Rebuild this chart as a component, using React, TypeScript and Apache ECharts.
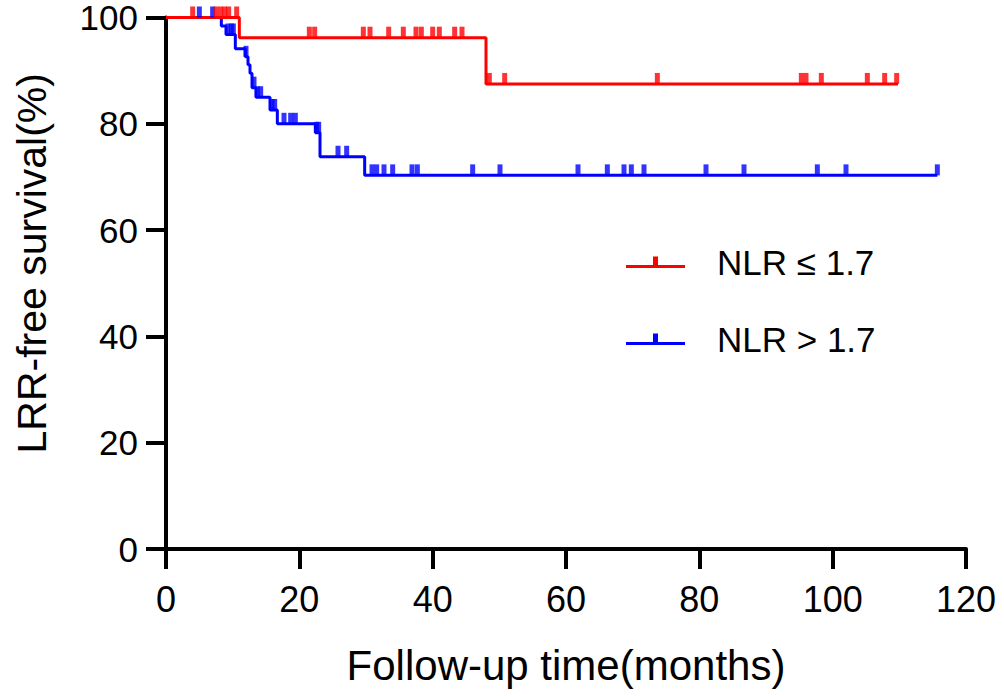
import React, { useEffect, useRef } from "react";
import * as echarts from "echarts";

// ---- data ----
const xTicks = [0, 20, 40, 60, 80, 100, 120];
const yTicks = [0, 20, 40, 60, 80, 100];

const redName = "NLR ≤ 1.7";
const blueName = "NLR > 1.7";

const redEventTimes = [0, 11.0, 48.0];
const redSurvival = [100, 96.2, 87.5];
const redEndTime = 109.8;
const redCensorTimes = [
  4.0, 7.5, 8.2, 8.8, 9.4, 10.6,
  21.5, 22.3, 29.6, 30.6, 33.4, 35.6, 37.5, 38.3, 40.0, 41.0, 43.3, 44.4,
  48.5, 50.8, 73.7, 95.3, 96.0, 98.3, 105.2, 107.8, 109.6,
];

const blueEventTimes = [0, 8.3, 9.0, 10.4, 11.9, 12.3, 12.6, 12.9, 13.5, 15.6, 16.7, 22.4, 23.1, 29.8];
const blueSurvival = [100, 98.4, 96.8, 94.1, 92.6, 91.1, 89.5, 86.8, 85.0, 82.6, 80.0, 78.3, 73.8, 70.3];
const blueEndTime = 115.7;
const blueCensorTimes = [
  5.0, 7.0, 9.3, 9.8, 10.1, 12.0, 13.2, 13.7, 14.2, 15.9, 16.3,
  17.7, 18.7, 19.4, 22.6, 22.9, 25.8, 27.1,
  30.9, 31.6, 32.7, 34.0, 36.9, 37.7, 46.0, 50.1, 61.8, 66.2, 68.7, 69.8, 71.7,
  81.0, 86.7, 97.7, 102.0, 115.7,
];

const RED = "#FF0000";
const BLUE = "#0000FF";
const FONT = "Liberation Sans, Arial, Helvetica, sans-serif";

function survAt(times: number[], surv: number[], t: number): number {
  let v = surv[0];
  for (let i = 0; i < times.length; i++) {
    if (times[i] <= t) v = surv[i];
  }
  return v;
}

function curve(times: number[], surv: number[], end: number): number[][] {
  const pts = times.map((t, i) => [t, surv[i]]);
  pts.push([end, surv[surv.length - 1]]);
  return pts;
}

function censors(times: number[], surv: number[], cens: number[]): number[][] {
  return cens.map((t) => [t, survAt(times, surv, t)]);
}

const legendIcon = "path://M0,8.5L59,8.5L59,11.5L0,11.5Z M27,0L32,0L32,9L27,9Z";

export default function App() {
  const ref = useRef<HTMLDivElement>(null);
  useEffect(() => {
    document.body.style.margin = "0";
    const chart = echarts.init(ref.current!, null, { renderer: "svg" });
    const option: any = {
      animation: false,
      backgroundColor: "#ffffff",
      grid: { left: 166, right: 38, top: 17, bottom: 147, containLabel: false },
      legend: {
        orient: "vertical",
        left: 626,
        top: 241,
        padding: 0,
        itemWidth: 59,
        itemHeight: 11.5,
        itemGap: 34.5,
        itemStyle: { borderWidth: 0 },
        textStyle: {
          fontFamily: FONT,
          fontSize: 35,
          lineHeight: 34,
          color: "#000",
          padding: [8.5, 0, 0, 27],
        },
        data: [
          { name: redName, icon: legendIcon },
          { name: blueName, icon: legendIcon },
        ],
      },
      xAxis: {
        type: "value",
        min: xTicks[0],
        max: xTicks[xTicks.length - 1],
        interval: xTicks[1] - xTicks[0],
        name: "Follow-up time(months)",
        nameLocation: "middle",
        nameGap: 96,
        nameTextStyle: { fontFamily: FONT, fontSize: 42, lineHeight: 41, color: "#000" },
        axisLine: { show: true, lineStyle: { color: "#000", width: 4 } },
        axisTick: { show: true, length: 20, lineStyle: { color: "#000", width: 4 } },
        axisLabel: { fontFamily: FONT, fontSize: 36, lineHeight: 30, color: "#000", margin: 35 },
        splitLine: { show: false },
      },
      yAxis: {
        type: "value",
        min: yTicks[0],
        max: yTicks[yTicks.length - 1],
        interval: yTicks[1] - yTicks[0],
        name: "LRR-free survival(%)",
        nameLocation: "middle",
        nameGap: 114,
        nameTextStyle: {
          fontFamily: FONT,
          fontSize: 41,
          lineHeight: 41,
          color: "#000",
          padding: [0, 0, 0, 40],
        },
        axisLine: { show: true, lineStyle: { color: "#000", width: 4 } },
        axisTick: { show: true, length: 20, lineStyle: { color: "#000", width: 4 } },
        axisLabel: { fontFamily: FONT, fontSize: 35, lineHeight: 26, color: "#000", margin: 28 },
        splitLine: { show: false },
      },
      series: [
        {
          name: blueName,
          type: "line",
          step: "end",
          symbol: "none",
          clip: false,
          color: BLUE,
          lineStyle: { color: BLUE, width: 3 },
          data: curve(blueEventTimes, blueSurvival, blueEndTime),
          z: 2,
        },
        {
          name: redName,
          type: "line",
          step: "end",
          symbol: "none",
          clip: false,
          color: RED,
          lineStyle: { color: RED, width: 3 },
          data: curve(redEventTimes, redSurvival, redEndTime),
          z: 3,
        },
        {
          name: "blue-censored",
          type: "scatter",
          symbol: "rect",
          symbolSize: [5, 11],
          symbolOffset: [0, "-50%"],
          clip: false,
          itemStyle: { color: BLUE },
          data: censors(blueEventTimes, blueSurvival, blueCensorTimes),
          z: 4,
        },
        {
          name: "red-censored",
          type: "scatter",
          symbol: "rect",
          symbolSize: [5, 11],
          symbolOffset: [0, "-50%"],
          clip: false,
          itemStyle: { color: RED },
          data: censors(redEventTimes, redSurvival, redCensorTimes),
          z: 5,
        },
      ],
    };
    chart.setOption(option);
    return () => chart.dispose();
  }, []);
  return <div ref={ref} style={{ width: 1004, height: 696 }} />;
}
